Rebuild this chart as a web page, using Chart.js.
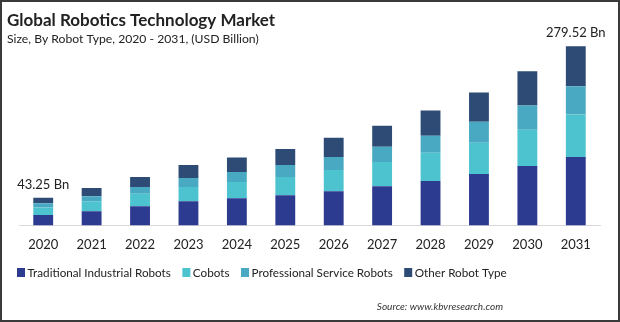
<!DOCTYPE html>
<html>
<head>
<meta charset="utf-8">
<script src="https://cdn.jsdelivr.net/npm/chart.js@4.4.0/dist/chart.umd.min.js"></script>
<style>
  html, body { margin: 0; padding: 0; background: #fff; }
  #wrap { width: 620px; height: 322px; position: relative; }
</style>
</head>
<body>
<div id="wrap"><canvas id="marketChart"></canvas></div>
<script>
const years = ["2020", "2021", "2022", "2023", "2024", "2025", "2026", "2027", "2028", "2029", "2030", "2031"];
const traditional = [16.2, 22.0, 29.8, 37.7, 42.4, 47.1, 53.4, 61.2, 69.1, 80.1, 92.6, 106.8];
const cobots = [11.9, 15.7, 19.4, 22.0, 25.1, 28.3, 33.0, 37.7, 44.0, 48.7, 56.5, 66.0];
const professional = [6.5, 7.9, 10.5, 14.1, 15.7, 18.8, 20.4, 23.6, 26.7, 33.0, 37.7, 44.0];
const otherTypes = [8.65, 12.6, 15.7, 20.4, 22.5, 25.1, 29.8, 33.0, 39.3, 45.5, 53.4, 62.72];

const seriesNames = ["Traditional Industrial Robots", "Cobots", "Professional Service Robots", "Other Robot Type"];
const seriesColors = ["#2c3a8f", "#4ec3d0", "#4aa9c2", "#2d4b75"];
// only the first and last year carry a total label
const labelledYears = [0, 11];

const FONT = "Lato, 'Open Sans', sans-serif";

function yearTotal(i) {
  return traditional[i] + cobots[i] + professional[i] + otherTypes[i];
}

const decorations = {
  id: "decorations",
  beforeDraw(chart) {
    const ctx = chart.ctx;
    ctx.save();
    ctx.fillStyle = "#fff";
    ctx.fillRect(0, 0, chart.width, chart.height);
    ctx.restore();
  },
  afterDraw(chart) {
    const ctx = chart.ctx;
    ctx.save();
    ctx.fillStyle = "#222";
    ctx.textBaseline = "alphabetic";
    ctx.textAlign = "left";

    ctx.font = "bold 17px " + FONT;
    ctx.fillText("Global Robotics Technology Market", 7, 26);
    ctx.font = "12.2px " + FONT;
    ctx.fillText("Size, By Robot Type, 2020 - 2031, (USD Billion)", 7, 43);

    // totals above the first and last bars
    const topMeta = chart.getDatasetMeta(chart.data.datasets.length - 1);
    ctx.font = "13px " + FONT;
    ctx.textAlign = "center";
    ctx.textBaseline = "middle";
    labelledYears.forEach(i => {
      const bar = topMeta.data[i];
      ctx.fillText(yearTotal(i).toFixed(2) + " Bn", bar.x, bar.y - 13);
    });

    // legend row
    ctx.textAlign = "left";
    ctx.font = "11.7px " + FONT;
    let x = 17;
    chart.data.datasets.forEach(ds => {
      ctx.fillStyle = ds.backgroundColor;
      ctx.fillRect(x, 268, 8, 9);
      x += 10.5;
      ctx.fillStyle = "#222";
      ctx.fillText(ds.label, x, 273);
      x += ctx.measureText(ds.label).width + 11.5;
    });

    ctx.font = "italic 10px " + FONT;
    ctx.textAlign = "right";
    ctx.fillStyle = "#333";
    ctx.fillText("Source: www.kbvresearch.com", 503, 307);

    ctx.strokeStyle = "#3a3a3a";
    ctx.lineWidth = 2;
    ctx.strokeRect(1, 1, chart.width - 2, chart.height - 2);
    ctx.restore();
  }
};

new Chart(document.getElementById("marketChart"), {
  type: "bar",
  data: {
    labels: years,
    datasets: [traditional, cobots, professional, otherTypes].map((values, k) => ({
      label: seriesNames[k],
      data: values,
      backgroundColor: seriesColors[k],
      borderWidth: 0,
      barPercentage: 0.41,
      categoryPercentage: 1
    }))
  },
  options: {
    responsive: true,
    maintainAspectRatio: false,
    animation: false,
    layout: { padding: { left: 19, right: 20, top: 33, bottom: 65 } },
    plugins: {
      legend: { display: false },
      title: { display: false },
      tooltip: { enabled: false }
    },
    scales: {
      x: {
        stacked: true,
        grid: { display: false },
        border: { display: true, color: "#d9d9d9", width: 1 },
        ticks: { color: "#222", font: { family: FONT, size: 13 }, padding: 4 }
      },
      y: {
        stacked: true,
        display: false,
        min: 0,
        max: 300
      }
    }
  },
  plugins: [decorations]
});
</script>
</body>
</html>
